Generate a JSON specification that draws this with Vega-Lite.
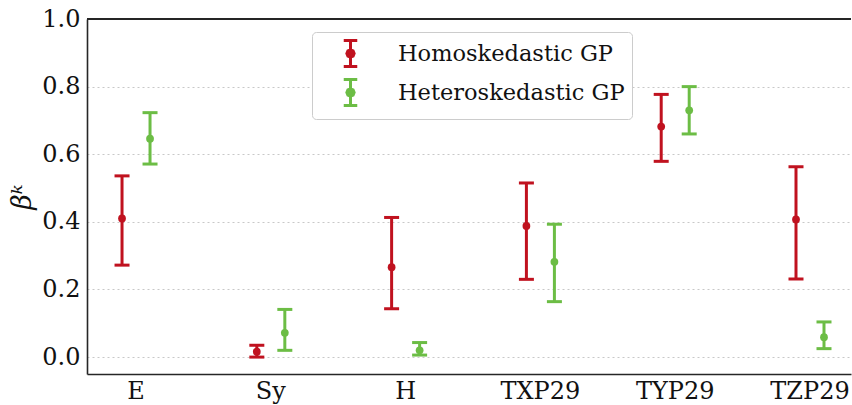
{
  "$schema": "https://vega.github.io/schema/vega-lite/v6.json",
  "width": 764,
  "height": 355,
  "autosize": {"type": "none"},
  "padding": {"left": 87, "top": 19, "right": 1, "bottom": 31},
  "config": {
    "view": {"stroke": null},
    "font": "DejaVu Serif",
    "axis": {
      "domainColor": "#262626",
      "domainWidth": 1.6,
      "ticks": false,
      "labelFont": "DejaVu Serif",
      "labelFontSize": 24,
      "labelColor": "#111111",
      "grid": false
    }
  },
  "data": {
    "values": [
      {"param": "E", "model": "Homoskedastic GP", "mean": 0.410, "lo": 0.272, "hi": 0.536},
      {"param": "E", "model": "Heteroskedastic GP", "mean": 0.646, "lo": 0.571, "hi": 0.723},
      {"param": "Sy", "model": "Homoskedastic GP", "mean": 0.016, "lo": 0.000, "hi": 0.035},
      {"param": "Sy", "model": "Heteroskedastic GP", "mean": 0.072, "lo": 0.020, "hi": 0.141},
      {"param": "H", "model": "Homoskedastic GP", "mean": 0.266, "lo": 0.143, "hi": 0.413},
      {"param": "H", "model": "Heteroskedastic GP", "mean": 0.020, "lo": 0.006, "hi": 0.043},
      {"param": "TXP29", "model": "Homoskedastic GP", "mean": 0.388, "lo": 0.230, "hi": 0.515},
      {"param": "TXP29", "model": "Heteroskedastic GP", "mean": 0.282, "lo": 0.164, "hi": 0.393},
      {"param": "TYP29", "model": "Homoskedastic GP", "mean": 0.682, "lo": 0.579, "hi": 0.777},
      {"param": "TYP29", "model": "Heteroskedastic GP", "mean": 0.730, "lo": 0.660, "hi": 0.800},
      {"param": "TZP29", "model": "Homoskedastic GP", "mean": 0.407, "lo": 0.231, "hi": 0.563},
      {"param": "TZP29", "model": "Heteroskedastic GP", "mean": 0.059, "lo": 0.025, "hi": 0.104}
    ]
  },
  "layer": [
    {
      "encoding": {
        "x": {
          "field": "param",
          "type": "nominal",
          "sort": ["E", "Sy", "H", "TXP29", "TYP29", "TZP29"],
          "scale": {"paddingInner": 0.4065, "paddingOuter": 0.0372, "align": 0.9},
          "axis": {"title": null, "labelAngle": 0, "labelPadding": 5}
        },
        "xOffset": {
          "field": "model",
          "type": "nominal",
          "sort": ["Homoskedastic GP", "Heteroskedastic GP"],
          "scale": {"paddingInner": 0, "paddingOuter": 0.4286}
        },
        "color": {
          "field": "model",
          "type": "nominal",
          "sort": ["Homoskedastic GP", "Heteroskedastic GP"],
          "scale": {"domain": ["Homoskedastic GP", "Heteroskedastic GP"], "range": ["#c0121f", "#6cbd45"]},
          "legend": {
            "title": null,
            "orient": "none",
            "legendX": 225,
            "legendY": 13,
            "direction": "vertical",
            "fillColor": "#ffffff",
            "strokeColor": "#cccccc",
            "cornerRadius": 4,
            "padding": 7,
            "symbolOffset": 17,
            "labelOffset": 33,
            "rowPadding": 0,
            "labelLimit": 400,
            "labelFont": "DejaVu Serif",
            "labelFontSize": 22.5,
            "labelColor": "#111111",
            "symbolSize": 676,
            "symbolStrokeWidth": 3,
            "symbolType": "M-0.52,-1H0.52M0,-1V1M-0.52,1H0.52M0.28,0L0.2,0.2L0,0.28L-0.2,0.2L-0.28,0L-0.2,-0.2L0,-0.28L0.2,-0.2Z",
            "encode": {
              "symbols": {
                "update": {
                  "fill": {"scale": "color", "field": "value"},
                  "stroke": {"scale": "color", "field": "value"},
                  "strokeWidth": {"value": 3},
                  "opacity": {"value": 1}
                }
              }
            }
          }
        }
      },
      "layer": [
        {
          "mark": {"type": "rule", "strokeWidth": 3},
          "encoding": {
            "y": {
              "field": "lo",
              "type": "quantitative",
              "scale": {"domain": [-0.05, 1.0], "nice": false, "zero": false},
              "axis": {
                "title": "βᵏ",
                "titleFont": "DejaVu Serif",
                "titleFontStyle": "italic",
                "titleFontWeight": "normal",
                "titleFontSize": 27,
                "titleColor": "#111111",
                "titlePadding": 5,
                "values": [0, 0.2, 0.4, 0.6, 0.8, 1.0],
                "format": ".1f",
                "labelPadding": 7,
                "grid": true,
                "gridColor": "#c8c8c8",
                "gridDash": [2, 3],
                "gridWidth": 1
              }
            },
            "y2": {"field": "hi"}
          }
        },
        {
          "mark": {"type": "tick", "thickness": 3, "size": 15, "opacity": 1},
          "encoding": {"y": {"field": "lo", "type": "quantitative"}}
        },
        {
          "mark": {"type": "tick", "thickness": 3, "size": 15, "opacity": 1},
          "encoding": {"y": {"field": "hi", "type": "quantitative"}}
        },
        {
          "mark": {"type": "point", "filled": true, "size": 60, "opacity": 1},
          "encoding": {"y": {"field": "mean", "type": "quantitative"}}
        }
      ]
    },
    {
      "mark": {"type": "rule", "color": "#262626", "strokeWidth": 1.6},
      "encoding": {"y": {"datum": 1.0}}
    }
  ]
}
